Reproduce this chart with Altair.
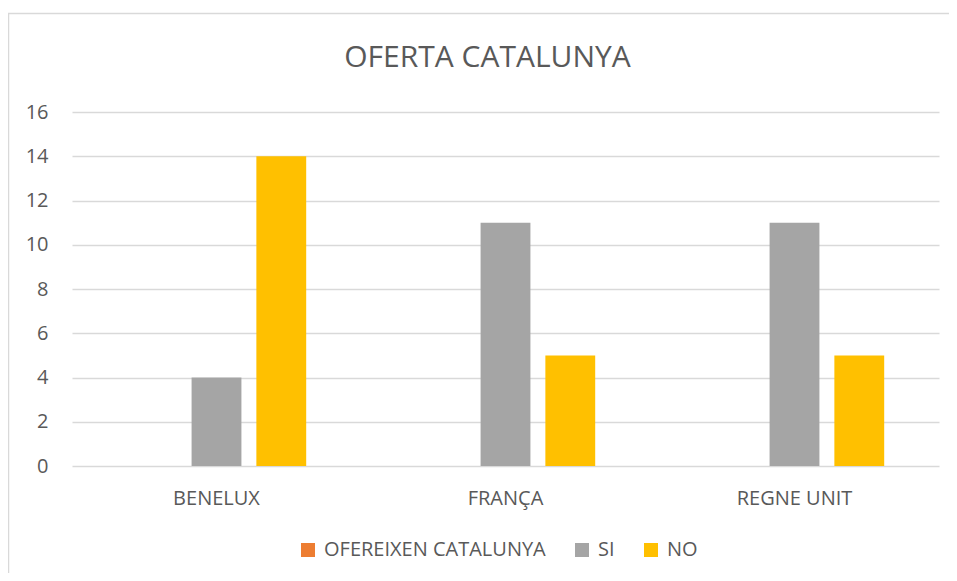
import altair as alt
import pandas as pd

categories = ["BENELUX", "FRANÇA", "REGNE UNIT"]
series_names = ["OFEREIXEN CATALUNYA", "SI", "NO"]
ofereixen_values = [0, 0, 0]
si_values = [4, 11, 11]
no_values = [14, 5, 5]
series_colors = ["#ED7D31", "#A5A5A5", "#FFC000"]
y_ticks = [0, 2, 4, 6, 8, 10, 12, 14, 16]
chart_title = "OFERTA CATALUNYA"

rows = []
for name, vals in zip(series_names, [ofereixen_values, si_values, no_values]):
    for c, v in zip(categories, vals):
        rows.append({"country": c, "series": name, "value": v})
df = pd.DataFrame(rows)

FONT = "Open Sans"
TEXT = "#595959"
GRID = "#D9D9D9"

bars = alt.Chart(df).mark_bar().encode(
    x=alt.X(
        "country:N", sort=categories,
        scale=alt.Scale(paddingInner=0, paddingOuter=0),
        axis=alt.Axis(title=None, labelAngle=0, domain=False, ticks=False, tickSize=0,
                      labelPadding=22, labelFontSize=20, labelColor=TEXT, labelFont=FONT),
    ),
    xOffset=alt.XOffset(
        "series:N", sort=series_names,
        scale=alt.Scale(paddingInner=0.2308, paddingOuter=0.846),
    ),
    y=alt.Y(
        "value:Q",
        scale=alt.Scale(domain=[0, 16], nice=False),
        axis=alt.Axis(title=None, values=y_ticks, domain=False, ticks=False, tickSize=0,
                      labelPadding=24, gridColor=GRID, gridWidth=1.3,
                      labelFontSize=20, labelColor=TEXT, labelFont=FONT),
    ),
    color=alt.Color(
        "series:N", sort=series_names,
        scale=alt.Scale(domain=series_names, range=series_colors),
        legend=alt.Legend(title=None, orient="none", legendX=226, legendY=428,
                          direction="horizontal", symbolType="square", symbolSize=196,
                          symbolStrokeWidth=0, labelOffset=6, columnPadding=26,
                          labelLimit=0, labelFontSize=20, labelFont=FONT,
                          labelColor=TEXT),
    ),
)

frame_src = pd.DataFrame({"a": [0]})
border_top = alt.Chart(frame_src).mark_rule(stroke=GRID, strokeWidth=1.5).encode(
    x=alt.value(-64), x2=alt.value(2000), y=alt.value(-98.5)
)
border_left = alt.Chart(frame_src).mark_rule(stroke=GRID, strokeWidth=1.5).encode(
    x=alt.value(-63.5), y=alt.value(-99), y2=alt.value(2000)
)

chart = alt.layer(border_top, border_left, bars).properties(
    width=867, height=354,
    autosize="none",
    padding={"left": 64, "top": 104, "right": 10, "bottom": 107},
    title=alt.TitleParams(chart_title, fontSize=30, font=FONT, color=TEXT,
                          fontWeight="normal", anchor="middle", dx=-18, offset=-61),
).configure_view(strokeWidth=0)

chart.save("out.html", embed_options={"renderer": "svg", "actions": False})
